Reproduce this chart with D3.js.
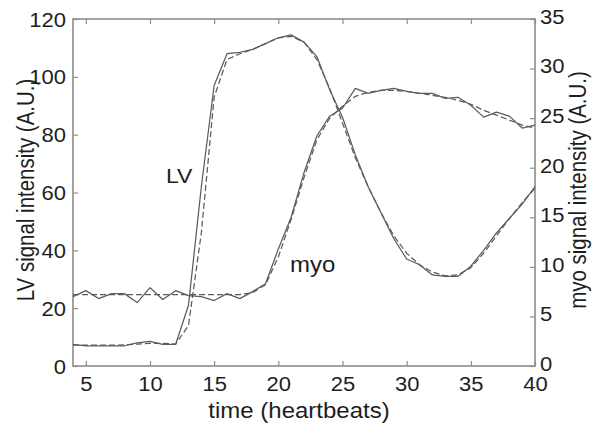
<!DOCTYPE html>
<html>
<head>
<meta charset="utf-8">
<script src="https://cdn.jsdelivr.net/npm/d3@7"></script>
<style>
  html, body { margin: 0; padding: 0; background: #fff; }
  svg { display: block; font-family: "Liberation Sans", Arial, Helvetica, sans-serif; }
</style>
</head>
<body>
<svg id="chart" width="593" height="432"></svg>
<script>
// time samples (heartbeats)
const time = [4,5,6,7,8,9,10,11,12,13,14,15,16,17,18,19,20,21,22,23,24,25,26,27,28,29,30,31,32,33,34,35,36,37,38,39,40];
// LV signal intensity, measured (solid) and fitted (dashed)
const lvMeasured = [7.5,7,7,7,7,8,8.5,7.5,7.5,21,62,97,108,108.5,109.5,111.5,113.5,114.5,112,107,95.5,86,73,62,53,44,37,35,31.5,31,31,34.5,40,46,51,56,62];
const lvFit      = [7.2,7.2,7.2,7.2,7.3,7.6,7.8,7.8,7.6,14,46,93,106,108,109.5,111.5,113.5,114,112,106,96,84,72,62,53,45,39,35,32.5,31.2,31.5,34,39,45,51,56.5,61.5];
// myocardium signal intensity, measured (solid) and fitted (dashed)
const myoMeasured = [7.0,7.6,6.8,7.3,7.3,6.4,7.9,6.7,7.6,7.1,7.0,6.6,7.3,6.8,7.5,8.3,11.8,15,19.5,23.2,25.2,26,28,27.5,27.8,28,27.7,27.5,27.5,27.0,27.1,26.3,25.1,25.6,25.2,24.0,24.3];
const myoFit      = [7.2,7.2,7.2,7.2,7.2,7.2,7.2,7.2,7.2,7.2,7.2,7.2,7.2,7.2,7.4,8.2,11,14.8,19,22.8,25,26.2,27.2,27.6,27.8,27.8,27.7,27.5,27.3,27.1,26.8,26.4,25.8,25.3,24.8,24.3,24.0];
// tick labels
const xTicks = [5,10,15,20,25,30,35,40];
const lvTicks = [0,20,40,60,80,100,120];
const myoTicks = [0,5,10,15,20,25,30,35];

const svg = d3.select("#chart");
const L = 73, R = 535, T = 19, B = 366;
const SQ = 0.89; // vertical squash of the scanned lettering

const x = d3.scaleLinear().domain([4, 40]).range([L, R]);
const yL = d3.scaleLinear().domain([0, 120]).range([B, T]);
const yR = d3.scaleLinear().domain([0, 35]).range([B, T]);

const axisColor = "#8c8c8c";
const textColor = "#1e1e1e";
const lineColor = "#5c5c5c";

function styleAxis(dyEm) {
  return g => {
    g.select(".domain").remove();
    g.selectAll(".tick line").attr("stroke", axisColor).attr("stroke-width", 1.2);
    const t = g.selectAll(".tick text").attr("fill", textColor).style("font-size", "22px")
      .attr("transform", `scale(1,${SQ})`);
    if (dyEm !== undefined) t.attr("dy", dyEm);
  };
}

// bottom
svg.append("g").attr("transform", `translate(0,${B})`)
  .call(d3.axisBottom(x).tickValues(xTicks).tickSizeInner(-5).tickSizeOuter(0).tickPadding(12).tickFormat(d3.format("d")))
  .call(styleAxis());
// top (ticks only)
svg.append("g").attr("transform", `translate(0,${T})`)
  .call(d3.axisTop(x).tickValues(xTicks).tickSizeInner(-5).tickSizeOuter(0).tickFormat(""))
  .call(styleAxis());
// left
svg.append("g").attr("transform", `translate(${L},0)`)
  .call(d3.axisLeft(yL).tickValues(lvTicks).tickSizeInner(-5).tickSizeOuter(0).tickPadding(7))
  .call(styleAxis("0.36em"));
// right
svg.append("g").attr("transform", `translate(${R},0)`)
  .call(d3.axisRight(yR).tickValues(myoTicks).tickSizeInner(-5).tickSizeOuter(0).tickPadding(5))
  .call(styleAxis("0.22em"));

// frame
svg.append("rect").attr("x", L).attr("y", T).attr("width", R - L).attr("height", B - T)
  .attr("fill", "none").attr("stroke", axisColor).attr("stroke-width", 1.6);

const lineL = d3.line().x((d, i) => x(time[i])).y(d => yL(d));
const lineR = d3.line().x((d, i) => x(time[i])).y(d => yR(d));

const series = [
  { data: lvFit, gen: lineL, dash: "6,3" },
  { data: myoFit, gen: lineR, dash: "6,3" },
  { data: lvMeasured, gen: lineL, dash: null },
  { data: myoMeasured, gen: lineR, dash: null }
];
series.forEach(s => {
  svg.append("path").attr("d", s.gen(s.data))
    .attr("fill", "none").attr("stroke", lineColor).attr("stroke-width", 1.25)
    .attr("stroke-linejoin", "round")
    .attr("stroke-dasharray", s.dash);
});

function label(txt, tx, ty, size, rotate, anchor) {
  svg.append("text")
    .attr("transform", `translate(${tx},${ty}) scale(1,${SQ})` + (rotate ? " rotate(-90)" : ""))
    .attr("text-anchor", anchor || "start")
    .attr("fill", textColor).style("font-size", size + "px").text(txt);
}

// series labels
label("LV", 166, 183, 23);
label("myo", 290, 272, 24);

// axis titles
label("time (heartbeats)", 299, 418, 24, false, "middle");
label("LV signal intensity (A.U.)", 34, 190, 23, true, "middle");
label("myo signal intensity (A.U.)", 586, 190, 23, true, "middle");
</script>
</body>
</html>
